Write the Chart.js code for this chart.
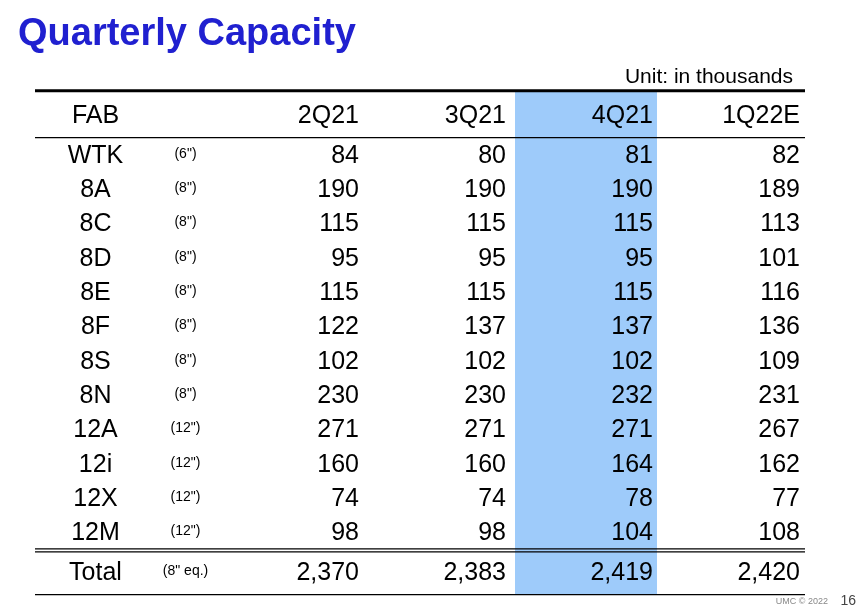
<!DOCTYPE html>
<html>
<head>
<meta charset="utf-8">
<script src="https://cdn.jsdelivr.net/npm/chart.js@4/dist/chart.umd.min.js"></script>
<style>
  html, body { margin: 0; padding: 0; background: #fff; }
  #wrap { width: 865px; height: 612px; }
</style>
</head>
<body>
<div id="wrap"><canvas id="tbl"></canvas></div>
<script>
// table data
const quarters = ['2Q21', '3Q21', '4Q21', '1Q22E'];
const fabs = ['WTK', '8A', '8C', '8D', '8E', '8F', '8S', '8N', '12A', '12i', '12X', '12M'];
const waferSizes = ['(6")', '(8")', '(8")', '(8")', '(8")', '(8")', '(8")', '(8")', '(12")', '(12")', '(12")', '(12")'];
const cap2Q21 = [84, 190, 115, 95, 115, 122, 102, 230, 271, 160, 74, 98];
const cap3Q21 = [80, 190, 115, 95, 115, 137, 102, 230, 271, 160, 74, 98];
const cap4Q21 = [81, 190, 115, 95, 115, 137, 102, 232, 271, 164, 78, 104];
const cap1Q22E = [82, 189, 113, 101, 116, 136, 109, 231, 267, 162, 77, 108];
const totals = ['2,370', '2,383', '2,419', '2,420'];
const highlightQuarter = '4Q21';

const series = [cap2Q21, cap3Q21, cap4Q21, cap1Q22E];
const rows = ['FAB'].concat(fabs, ['Total']);
const cols = [''].concat(quarters);
const FONT = '"Liberation Sans", Arial, sans-serif';

// draws the table cells onto the chart scales
const tablePlugin = {
    id: 'tablePlugin',
    beforeDatasetsDraw(chart) {
        const ctx = chart.ctx;
        const x = chart.scales.x, y = chart.scales.y;
        const colW = x.getPixelForValue(2) - x.getPixelForValue(1);
        const rowH = y.getPixelForValue(2) - y.getPixelForValue(1);
        const lineL = x.left - 35, lineR = x.right;
        const rowY = i => {
            let p = y.getPixelForValue(i);
            if (i === 0) p -= 6;
            if (i === rows.length - 1) p += 6;
            return p;
        };
        const topLine = rowY(0) - 25;
        const headLine = rowY(0) + 22;
        const dblLine = y.getPixelForValue(rows.length - 2) + rowH / 2;
        const botLine = rowY(rows.length - 1) + 21;

        ctx.save();
        // highlighted column
        const hc = x.getPixelForValue(cols.indexOf(highlightQuarter));
        ctx.fillStyle = '#9ecbfa';
        ctx.fillRect(hc - colW / 2 + 4, topLine, colW - 5, botLine - topLine);

        // title and unit
        ctx.fillStyle = '#2020d0';
        ctx.font = 'bold 38px ' + FONT;
        ctx.textAlign = 'left';
        ctx.textBaseline = 'middle';
        ctx.fillText('Quarterly Capacity', 18, 35);
        ctx.fillStyle = '#000';
        ctx.font = '21px ' + FONT;
        ctx.textAlign = 'right';
        ctx.fillText('Unit: in thousands', lineR - 12, 77);

        // rules
        ctx.strokeStyle = '#000';
        const hline = (py, w) => { ctx.lineWidth = w; ctx.beginPath(); ctx.moveTo(lineL, py); ctx.lineTo(lineR, py); ctx.stroke(); };
        hline(topLine, 3);
        hline(headLine, 1.2);
        hline(dblLine - 1.5, 1.2);
        hline(dblLine + 1.5, 1.2);
        hline(botLine, 1.2);

        // cells
        ctx.fillStyle = '#000';
        rows.forEach((r, i) => {
            const py = rowY(i);
            const c0 = x.getPixelForValue(0);
            ctx.font = '25px ' + FONT;
            ctx.textAlign = 'center';
            ctx.fillText(r, c0 - 48, py);
            if (i > 0) {
                ctx.font = '14px ' + FONT;
                ctx.fillText(i === rows.length - 1 ? '(8" eq.)' : waferSizes[i - 1], c0 + 42, py - 2);
            }
            ctx.font = '25px ' + FONT;
            ctx.textAlign = 'right';
            quarters.forEach((q, j) => {
                const px = x.getPixelForValue(j + 1) + colW / 2 - 5;
                let txt;
                if (i === 0) txt = q;
                else if (i === rows.length - 1) txt = totals[j];
                else txt = String(series[j][i - 1]);
                ctx.fillText(txt, px, py);
            });
        });

        // footer
        ctx.fillStyle = '#888';
        ctx.font = '9px ' + FONT;
        ctx.textAlign = 'right';
        ctx.fillText('UMC © 2022', 828, 602);
        ctx.fillStyle = '#444';
        ctx.font = '14px ' + FONT;
        ctx.fillText('16', 856, 601);
        ctx.restore();
    }
};

new Chart(document.getElementById('tbl').getContext('2d'), {
    type: 'line',
    data: { labels: cols, datasets: [] },
    options: {
        responsive: true,
        maintainAspectRatio: false,
        animation: false,
        events: [],
        layout: { padding: { left: 70, right: 60, top: 104.5, bottom: 27.3 } },
        plugins: { legend: { display: false }, tooltip: { enabled: false } },
        scales: {
            x: { type: 'category', labels: cols, offset: true, display: false },
            y: { type: 'category', labels: rows, offset: true, display: false }
        }
    },
    plugins: [tablePlugin]
});
</script>
</body>
</html>
